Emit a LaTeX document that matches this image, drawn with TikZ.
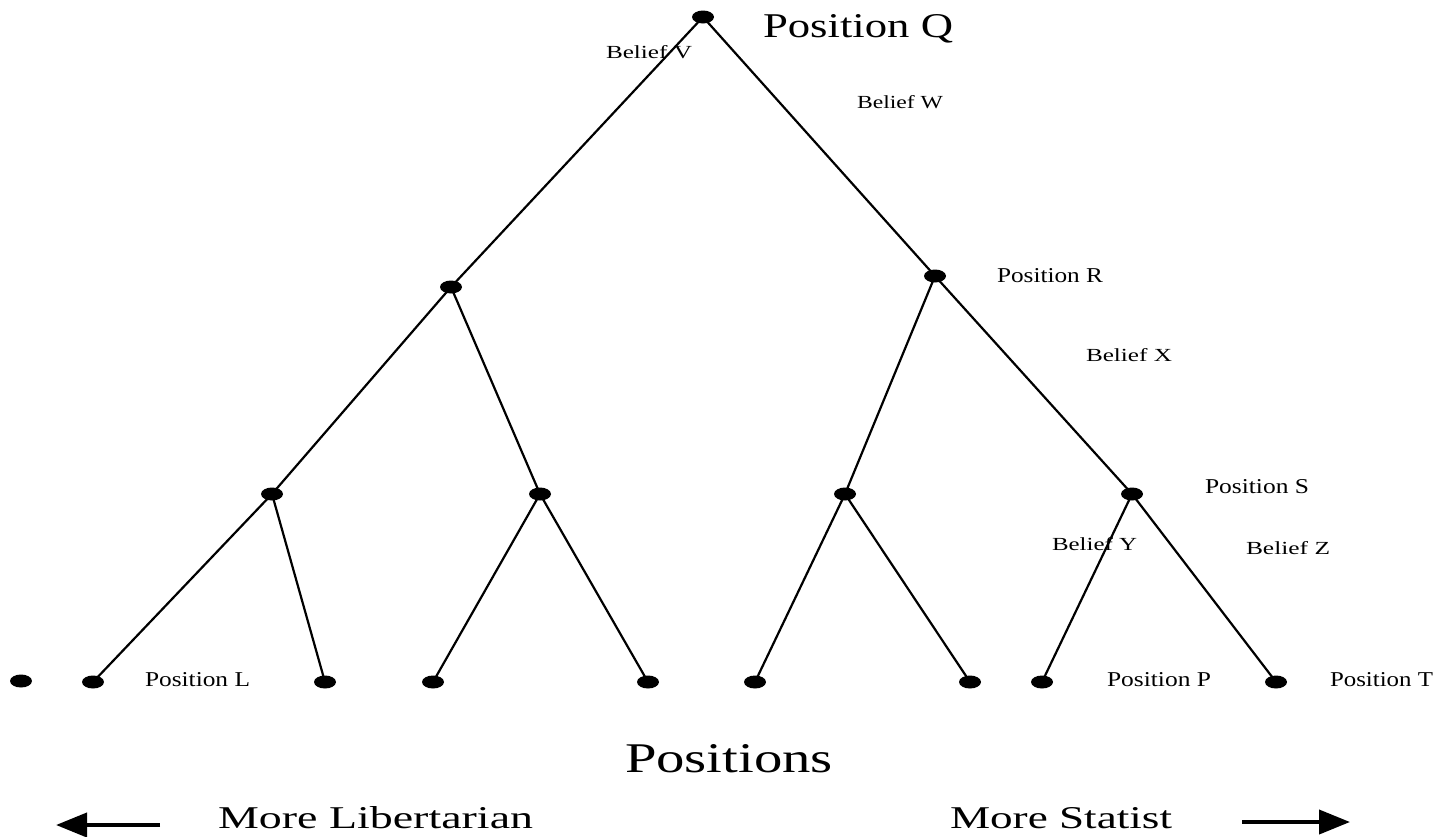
\documentclass[tikz,border=0pt]{standalone}
\usepackage{fontspec}
\setmainfont{Liberation Serif}
\usetikzlibrary{shapes.geometric,arrows.meta}
\newcommand{\tx}[3]{\resizebox{#1pt}{#2pt}{#3}}
\begin{document}
\begin{tikzpicture}[x=1pt,y=-1pt,
  dot/.style={ellipse,fill=black,draw=none,minimum width=22pt,minimum height=13pt,inner sep=0pt},
  edge/.style={line width=2.2pt},
  lbl/.style={anchor=base west,inner sep=0pt,outer sep=0pt},
  bigarrow/.style={line width=4pt,-{Triangle[length=31pt,width=24pt]}}]
\useasboundingbox (0,0) rectangle (1443,836);
% nodes
\node[dot] (q) at (703,17) {};
\node[dot] (a) at (451,287) {};
\node[dot] (r) at (935,276) {};
\node[dot] (b1) at (272,494) {};
\node[dot] (b2) at (540,494) {};
\node[dot] (b3) at (845,494) {};
\node[dot] (s) at (1132,494) {};
\node[dot] (l0) at (21,681) {};
\node[dot] (l1) at (93,682) {};
\node[dot] (l2) at (325,682) {};
\node[dot] (l3) at (433,682) {};
\node[dot] (l4) at (648,682) {};
\node[dot] (l5) at (755,682) {};
\node[dot] (l6) at (970,682) {};
\node[dot] (l7) at (1042,682) {};
\node[dot] (l8) at (1276,682) {};
% edges
\draw[edge] (q.center) -- (a.center);
\draw[edge] (q.center) -- (r.center);
\draw[edge] (a.center) -- (b1.center);
\draw[edge] (a.center) -- (b2.center);
\draw[edge] (r.center) -- (b3.center);
\draw[edge] (r.center) -- (s.center);
\draw[edge] (b1.center) -- (l1.center);
\draw[edge] (b1.center) -- (l2.center);
\draw[edge] (b2.center) -- (l3.center);
\draw[edge] (b2.center) -- (l4.center);
\draw[edge] (b3.center) -- (l5.center);
\draw[edge] (b3.center) -- (l6.center);
\draw[edge] (s.center) -- (l7.center);
\draw[edge] (s.center) -- (l8.center);
% labels
\node[lbl] (tq) at (763,37) {\tx{190}{23}{Position Q}};
\node[lbl] (tv) at (606,58) {\tx{86}{13}{Belief V}};
\node[lbl] (tw) at (857,108) {\tx{86}{13}{Belief W}};
\node[lbl] (tr) at (997,282) {\tx{106}{14}{Position R}};
\node[lbl] (tx) at (1086,361) {\tx{86}{13}{Belief X}};
\node[lbl] (ts) at (1205,493) {\tx{104}{14}{Position S}};
\node[lbl] (ty) at (1052,550) {\tx{85}{13}{Belief Y}};
\node[lbl] (tz) at (1246,554) {\tx{84}{13}{Belief Z}};
\node[lbl] (tl) at (145,686) {\tx{105}{14}{Position L}};
\node[lbl] (tp) at (1107,686) {\tx{104}{14}{Position P}};
\node[lbl] (tt) at (1330,686) {\tx{103}{14}{Position T}};
\node[lbl] (tpos) at (625,772) {\tx{208}{28}{Positions}};
\node[lbl] (tlib) at (218,828) {\tx{315}{22}{More Libertarian}};
\node[lbl] (tsta) at (950,828) {\tx{222}{21}{More Statist}};
% arrows
\coordinate (la1) at (160,825);
\coordinate (la2) at (56,825);
\coordinate (ra1) at (1242,822);
\coordinate (ra2) at (1350,822);
\draw[bigarrow] (la1) -- (la2);
\draw[bigarrow] (ra1) -- (ra2);
\end{tikzpicture}
\end{document}
